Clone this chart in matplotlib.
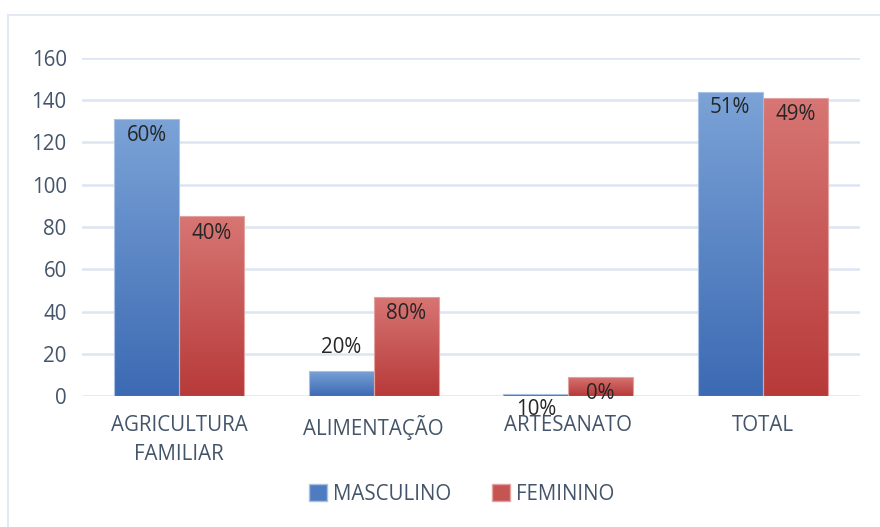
import matplotlib
matplotlib.use("Agg")
import matplotlib.pyplot as plt
import numpy as np
from matplotlib.colors import LinearSegmentedColormap
from matplotlib.lines import Line2D
from matplotlib.patches import Rectangle

categories = ["AGRICULTURA\nFAMILIAR", "ALIMENTAÇÃO", "ARTESANATO", "TOTAL"]
series_names = ["MASCULINO", "FEMININO"]
masculino = [131, 12, 1, 144]
feminino = [85, 47, 9, 141]
masc_labels = ["60%", "20%", "10%", "51%"]
fem_labels = ["40%", "80%", "0%", "49%"]
yticks = [0, 20, 40, 60, 80, 100, 120, 140, 160]

plt.rcParams['font.family'] = ['Open Sans', 'DejaVu Sans']
FS = 14.8

fig = plt.figure(figsize=(8.8, 5.27), dpi=100)
ax = fig.add_axes([82/880, 1-396/527, 778/880, 338/527])

x = np.arange(len(categories))
w = 0.334
blue_cmap = LinearSegmentedColormap.from_list("b", ["#3C6AB3", "#7BA3D7"])
red_cmap = LinearSegmentedColormap.from_list("r", ["#B73A39", "#D77674"])
grad = np.linspace(0, 1, 256).reshape(-1, 1)

def grad_bars(xs, vals, cmap, edge):
    bars = ax.bar(xs, vals, w, color="none", edgecolor="none", zorder=3)
    for b in bars:
        x0, y0 = b.get_x(), b.get_y()
        bw, bh = b.get_width(), b.get_height()
        im = ax.imshow(grad, cmap=cmap, origin="lower", aspect="auto",
                       extent=[x0, x0 + bw, y0, y0 + bh], zorder=3)
        clip = Rectangle((x0, y0), bw, bh, transform=ax.transData)
        im.set_clip_path(clip)
        ax.add_patch(Rectangle((x0, y0), bw, bh, fill=False,
                               edgecolor=edge, lw=0.8, zorder=4))
    return bars

bm = grad_bars(x - w/2, masculino, blue_cmap, "#A9C1E3")
bf = grad_bars(x + w/2, feminino, red_cmap, "#E0A3A2")

# label offsets in points (style)
masc_off = [-11.5, 17, -11.5, -11.5]
fem_off = [-12, -12, -12, -12]
for i in range(len(categories)):
    ax.annotate(masc_labels[i], (x[i] - w/2, masculino[i]), xytext=(0, masc_off[i]),
                textcoords="offset points", ha="center", va="center",
                fontsize=FS, color="#262626", zorder=6)
    ax.annotate(fem_labels[i], (x[i] + w/2, feminino[i]), xytext=(0, fem_off[i]),
                textcoords="offset points", ha="center", va="center",
                fontsize=FS, color="#262626", zorder=6)

ax.set_xlim(-0.5, len(categories) - 0.5)
ax.set_ylim(0, 160)
ax.set_yticks(yticks)
ax.set_xticks(x)
ax.set_xticklabels(categories, fontsize=FS, color="#44546A", linespacing=1.5)
ax.tick_params(axis="y", labelsize=FS, labelcolor="#44546A", length=0, pad=11)
ax.tick_params(axis="x", length=0, pad=14)
ax.grid(axis="y", color="#DCE5F2", lw=1.8, zorder=0)
ax.set_axisbelow(True)
for s in ax.spines.values():
    s.set_visible(False)

handles = [Rectangle((0, 0), 1, 1, facecolor="#4F7CC0", edgecolor="#A9C1E3"),
           Rectangle((0, 0), 1, 1, facecolor="#C65453", edgecolor="#E0A3A2")]
fig.legend(handles, series_names, loc="center", bbox_to_anchor=(462/880, 1-494/527),
           ncol=2, frameon=False, fontsize=FS, handlelength=0.85, handleheight=0.85,
           handletextpad=0.3, columnspacing=2.0, labelcolor="#44546A")

# chart border
fig.add_artist(Line2D([8/880, 8/880], [0, 1-15/527], transform=fig.transFigure,
                      color="#E3E9F4", lw=1.5))
fig.add_artist(Line2D([8/880, 1], [1-15/527, 1-15/527], transform=fig.transFigure,
                      color="#E3E9F4", lw=1.5))

fig.savefig("out.png", dpi=100)
